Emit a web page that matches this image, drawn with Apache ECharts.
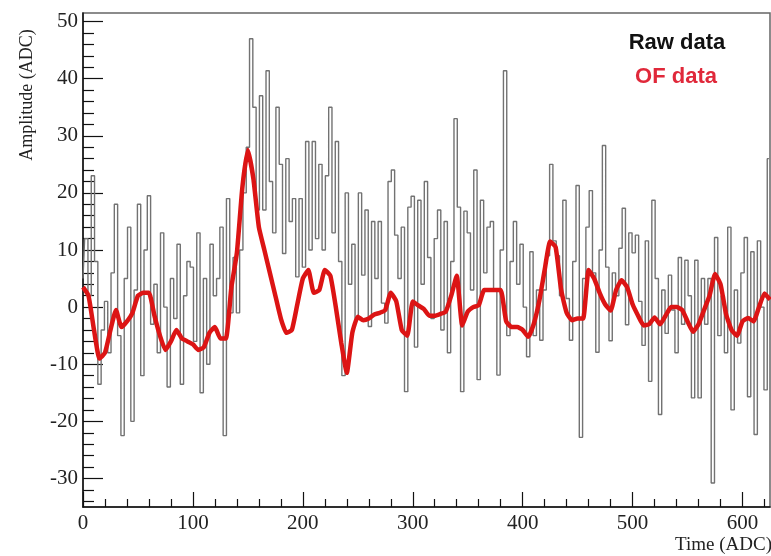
<!DOCTYPE html>
<html>
<head>
<meta charset="utf-8">
<script src="https://cdn.jsdelivr.net/npm/echarts@6/dist/echarts.min.js"></script>
<style>
  html, body { margin: 0; padding: 0; background: #fff; }
  #chart { width: 771px; height: 556px; }
</style>
</head>
<body>
<div id="chart"></div>
<script>
// Raw samples, one every 3 ADC time units starting at 0
const RAW_STEP = 3;
const rawAmp = [
  5, 12, 2, 23, 8, -13.5, -4, 1, -8, 6,
  18, -5, -22.5, 5, 14, -20, 3, 18, -12, 10,
  19.5, -3, 4, -8, 13, 0, -14, 5, -2, 11,
  -13.5, 2, 8, 7, -6, 13, -15, 5, -10, 11,
  2, 5, 14, -22.5, 19, -1, 8.7, -1, 10, 20,
  28, 47, 35, 17, 37, 17, 41.4, 22, 13, 35,
  25, 9.4, 26, 15, 19, 5.3, 19, 7, 29, 10,
  29, 12, 25, 10, 23, 35, 13, 29, 8, -12,
  20, 4, 11, -2, 20, 5.6, 17, -3.4, 15, 5,
  15, 0.7, -2.8, 22, 24, 12.6, 5, 14, -14.8, 17.5,
  19.4, -7, 18.7, 4, 22, 8.7, -2, 12, 17, -4,
  15, -8, 8, 33, 17.5, -14.8, 16.8, 13, 3, 24,
  -12.7, 18.7, 6, 14, 15, 3, -11.9, 10, 41.4, -5,
  8, 15, 4, 11, 0, -8.7, 9.7, -5, 3, -5.8,
  3, 9, 25, 11.6, 9, 2, 18.7, 1.5, -5.8, 8,
  21.3, -22.8, 5, 14, 20.4, 6, -7.9, 10, 28.3, 7,
  -5.9, 6, 2, 10.3, 17.3, -3.1, 13, 9.5, 12.6, 1,
  -6.7, 11.6, -13, 18.7, 5, -18.8, 3, -4.6, 5.6, -0.5,
  -8, 8.7, -3, 8.2, 2, -15.9, 8.2, -15.9, 5, -3,
  5, -30.8, 12.2, -5, 2, -8, 14, -18, 3, -6.3,
  6, 12.2, -15.7, 9.7, -22.3, 11.6, 0, -14.5, 26
];

// Optimal-filter output, one value every 5 ADC time units starting at 0
const OF_STEP = 5;
const ofAmp = [
  3.5, 2, -4, -9, -8, -4, -0.5, -3.5, -2.5, -1,
  2, 2.5, 2.5, -1.5, -5, -7.5, -6, -4, -5.5, -6,
  -6.5, -7.5, -7, -4.5, -3.5, -5.5, -5.5, 3.5, 9.5, 21,
  27.5, 22.5, 14, 10, 6, 2, -2, -4.5, -4, 0.5,
  5, 6.5, 2.5, 3, 6.5, 5.5, 0, -6.3, -11.5, -4.5,
  -1.7, -2.3, -2, -1.3, -1, -0.5, 2.5, 1, -4, -5,
  1, 0.3, -0.3, -1.5, -1.5, -1.2, -0.8, 2, 5.5, -3.2,
  -0.8, 0, 0.3, 3, 3, 3, 3, -2.5, -3.5, -3.5,
  -4, -5.2, -3, 1, 6.5, 11.5, 10.5, 3, -1, -2.3,
  -2, -2, 6.5, 5, 2.5, 0.5, -0.6, 3, 4.7, 3.5,
  0.5, -1.5, -3.2, -3, -1.8, -3, -1.5, 0, 0, -0.5,
  -2.5, -4.3, -3, -0.5, 2, 5.8, 4, -1.2, -4, -5,
  -2.5, -1.9, -2.5, 0, 2.4, 1.3
];

// Axis ranges and tick marks
const xRange = [0, 625];
const yRange = [-35, 51.5];
const xMajorTicks = [0, 100, 200, 300, 400, 500, 600];
const xMinorTicks = [20, 40, 60, 80, 120, 140, 160, 180, 220, 240, 260, 280,
  320, 340, 360, 380, 420, 440, 460, 480, 520, 540, 560, 580, 620];
const yMajorTicks = [-30, -20, -10, 0, 10, 20, 30, 40, 50];
const yMinorTicks = [-34, -32, -28, -26, -24, -22, -18, -16, -14, -12, -8, -6, -4, -2,
  2, 4, 6, 8, 12, 14, 16, 18, 22, 24, 26, 28, 32, 34, 36, 38, 42, 44, 46, 48];

const rawSeries = rawAmp.map((v, i) => [i * RAW_STEP, v]);
const ofSeries = ofAmp.map((v, i) => [i * OF_STEP, v]);

const serif = 'Liberation Serif';
const sans = 'Liberation Sans';

const chart = echarts.init(document.getElementById('chart'), null, { renderer: 'canvas' });

chart.setOption({
  animation: false,
  backgroundColor: '#ffffff',
  grid: {
    left: 83, right: 1, top: 13, bottom: 49,
    show: true, borderColor: '#666', borderWidth: 1.5, backgroundColor: 'transparent'
  },
  xAxis: [
    {
      type: 'value', min: xRange[0], max: xRange[1], position: 'bottom',
      axisLine: { show: true, onZero: false, lineStyle: { color: '#111', width: 1.5 } },
      axisTick: { show: true, inside: true, length: 15, customValues: xMajorTicks, lineStyle: { color: '#111', width: 1.2 } },
      axisLabel: { customValues: xMajorTicks, margin: 6, fontFamily: serif, fontSize: 21, color: '#222' },
      splitLine: { show: false }
    },
    {
      type: 'value', min: xRange[0], max: xRange[1], position: 'bottom',
      axisLine: { show: false, onZero: false },
      axisTick: { show: true, inside: true, length: 8, customValues: xMinorTicks, lineStyle: { color: '#111', width: 1.2 } },
      axisLabel: { show: false },
      splitLine: { show: false }
    }
  ],
  yAxis: [
    {
      type: 'value', min: yRange[0], max: yRange[1], position: 'left',
      axisLine: { show: true, onZero: false, lineStyle: { color: '#111', width: 1.5 } },
      axisTick: { show: true, inside: true, length: 20, customValues: yMajorTicks, lineStyle: { color: '#111', width: 1.2 } },
      axisLabel: { customValues: yMajorTicks, margin: 5, fontFamily: serif, fontSize: 21, color: '#222' },
      splitLine: { show: false }
    },
    {
      type: 'value', min: yRange[0], max: yRange[1], position: 'left',
      axisLine: { show: false, onZero: false },
      axisTick: { show: true, inside: true, length: 11, customValues: yMinorTicks, lineStyle: { color: '#111', width: 1.2 } },
      axisLabel: { show: false },
      splitLine: { show: false }
    }
  ],
  series: [
    {
      name: 'Raw data', type: 'line', xAxisIndex: 0, yAxisIndex: 0,
      data: rawSeries, step: 'middle', showSymbol: false, z: 2,
      lineStyle: { color: '#727272', width: 1.4 }
    },
    {
      name: 'OF data', type: 'line', xAxisIndex: 0, yAxisIndex: 0,
      data: ofSeries, smooth: 0.15, showSymbol: false, z: 3,
      lineStyle: { color: '#dc1414', width: 4.5 }
    }
  ],
  graphic: [
    {
      type: 'text', x: 27, y: 95, rotation: Math.PI / 2,
      style: { text: 'Amplitude (ADC)', font: '18px "' + serif + '"', fill: '#222', align: 'center', verticalAlign: 'middle' }
    },
    {
      type: 'text', x: 772, y: 545,
      style: { text: 'Time (ADC)', font: '19px "' + serif + '"', fill: '#222', align: 'right', verticalAlign: 'middle' }
    },
    {
      type: 'text', x: 677, y: 43,
      style: { text: 'Raw data', font: 'bold 22px "' + sans + '"', fill: '#111', align: 'center', verticalAlign: 'middle' }
    },
    {
      type: 'text', x: 676, y: 77,
      style: { text: 'OF data', font: 'bold 22px "' + sans + '"', fill: '#e0283a', align: 'center', verticalAlign: 'middle' }
    }
  ]
});
</script>
</body>
</html>
